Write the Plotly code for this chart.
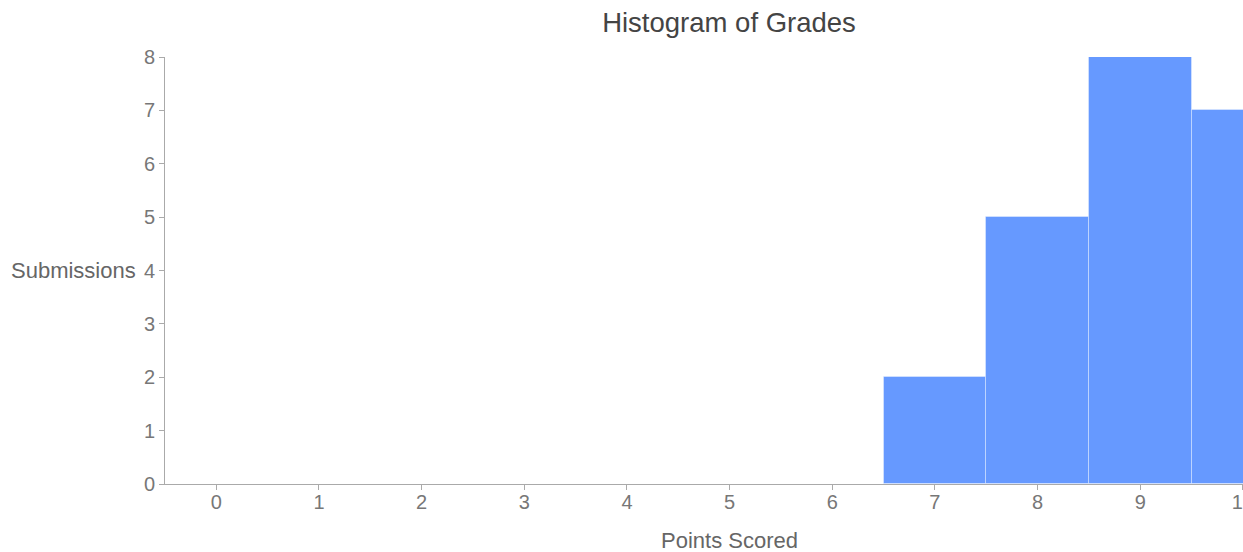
import plotly.graph_objects as go

points = [0, 1, 2, 3, 4, 5, 6, 7, 8, 9, 10]
submissions = [0, 0, 0, 0, 0, 0, 0, 2, 5, 8, 7]
y_ticks = [0, 1, 2, 3, 4, 5, 6, 7, 8]

W, H = 1243, 552
ML, MR, MT, MB = 165, 0, 57, 68
plot_w = W - ML - MR
plot_h = H - MT - MB

fig = go.Figure()
fig.add_trace(go.Bar(
    x=points, y=submissions, width=1,
    marker=dict(color="#6699ff", line=dict(color="rgba(255,255,255,0.35)", width=1)),
    showlegend=False,
))

font_family = "Liberation Sans, Arial, sans-serif"
fig.update_layout(
    width=W, height=H,
    margin=dict(l=ML, r=MR, t=MT, b=MB, pad=0, autoexpand=False),
    paper_bgcolor="white", plot_bgcolor="white",
    font=dict(family=font_family, color="#666666"),
    bargap=0,
    title=dict(text="Histogram of Grades", x=729 / W, xanchor="center", y=1 - 22 / H, yanchor="middle",
               font=dict(size=27.5, color="#444444")),
    xaxis=dict(range=[-0.5, 10.001], tickmode="array", tickvals=points, ticktext=[str(p) for p in points],
               showgrid=False, zeroline=False, showline=True, linecolor="#aaaaaa", linewidth=1,
               ticks="outside", ticklen=5, tickcolor="#aaaaaa", ticklabeloverflow="allow", automargin=False,
               ticklabelstandoff=-5, tickfont=dict(size=20, color="#777777")),
    yaxis=dict(range=[0, 8], tickmode="array", tickvals=y_ticks, showgrid=False, zeroline=False,
               showline=True, linecolor="#aaaaaa", linewidth=1, ticks="outside", ticklen=5, automargin=False,
               tickcolor="#aaaaaa", tickfont=dict(size=20, color="#777777")),
    annotations=[
        dict(text="Submissions", xref="paper", yref="y", x=(138 - ML) / plot_w, y=4,
             xanchor="right", yanchor="middle", showarrow=False, font=dict(size=22, color="#666666")),
        dict(text="Points Scored", xref="paper", yref="paper", x=(729 - ML) / plot_w, y=-(540 - 484) / plot_h,
             xanchor="center", yanchor="middle", showarrow=False, font=dict(size=22, color="#666666")),
    ],
)

fig.write_html("out.html", config={"displayModeBar": False},
               post_script="document.body.style.margin='0';document.body.style.overflow='hidden';")
